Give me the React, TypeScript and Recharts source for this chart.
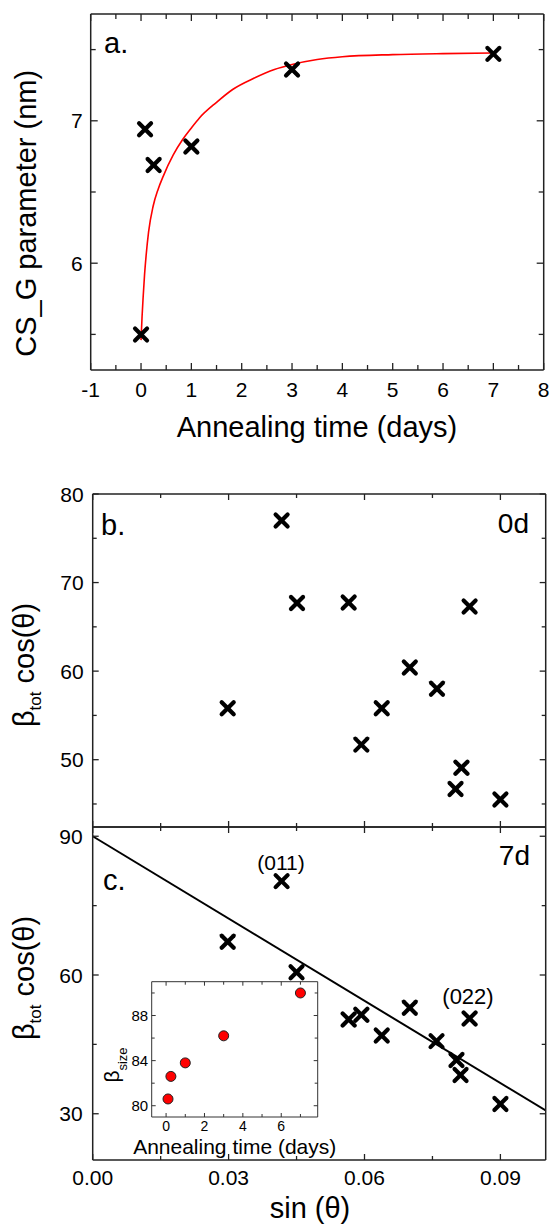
import React from 'react';
import { ComposedChart, Scatter, Line, XAxis, YAxis } from 'recharts';

const FONT = '"Liberation Sans", Arial, Helvetica, sans-serif';
const AXIS = '#222';

// ---------- Panel a ----------
const aTimes = [0, 0.08, 0.25, 1, 3, 7];
const aValues = [5.5, 6.94, 6.69, 6.82, 7.36, 7.47];
const aFitTimes = [0, 0.02, 0.04, 0.07, 0.1, 0.15, 0.24, 0.34, 0.44, 0.64, 0.83, 1, 1.16, 1.5, 1.82, 2.25, 2.65, 3, 3.5, 4, 5, 6, 7];
const aFitValues = [5.46, 5.62, 5.75, 5.92, 6.05, 6.22, 6.4, 6.52, 6.61, 6.76, 6.87, 6.95, 7.02, 7.13, 7.22, 7.3, 7.36, 7.395, 7.43, 7.45, 7.465, 7.472, 7.476];
const aXTicks = [-1, -0.5, 0, 0.5, 1, 1.5, 2, 2.5, 3, 3.5, 4, 4.5, 5, 5.5, 6, 6.5, 7, 7.5, 8];
const aXMajor = [-1, 0, 1, 2, 3, 4, 5, 6, 7, 8];
const aYTicks = [5.5, 6, 6.5, 7, 7.5];
const aYMajor = [6, 7];

// ---------- Panel b (0d) ----------
const bSin = [0.0298, 0.0417, 0.0451, 0.0565, 0.0593, 0.0638, 0.07, 0.076, 0.0832, 0.0814, 0.0801, 0.09];
const bValues = [55.8, 77.0, 67.7, 67.75, 51.7, 55.8, 60.4, 58.0, 67.3, 49.1, 46.7, 45.5];
const bYTicks = [45, 50, 55, 60, 65, 70, 75, 80];
const bYMajor = [50, 60, 70, 80];

// ---------- Panel c (7d) ----------
const cSin = [0.0298, 0.0417, 0.045, 0.0565, 0.0593, 0.0638, 0.07, 0.0759, 0.0832, 0.0803, 0.0812, 0.09];
const cValues = [67.2, 80.3, 60.6, 50.4, 51.4, 46.9, 52.9, 45.7, 50.6, 41.6, 38.4, 32.1];
const cFitSin = [0, 0.1];
const cFitValues = [90.0, 30.7];
const cYTicks = [30, 45, 60, 75, 90];
const cYMajor = [30, 60, 90];

// shared sin(theta) axis
const sinTicks = [0, 0.015, 0.03, 0.045, 0.06, 0.075, 0.09];
const sinMajor = [0, 0.03, 0.06, 0.09];

// ---------- Inset ----------
const insetTimes = [0.1, 0.25, 1, 3, 7];
const insetValues = [80.6, 82.6, 83.8, 86.2, 90.0];
const insetXTicks = [0, 1, 2, 3, 4, 5, 6, 7];
const insetXMajor = [0, 2, 4, 6];
const insetYTicks = [80, 82, 84, 86, 88, 90];
const insetYMajor = [80, 84, 88];

const zip = (xs: number[], ys: number[]) => xs.map((x, i) => ({ x, y: ys[i] }));

const isIn = (arr: number[], v: number) => arr.some((a) => Math.abs(a - v) < 1e-9);

type Side = 'bottom' | 'top' | 'left' | 'right';
interface TickCfg {
  side: Side;
  majors: number[];
  labels?: number[];
  majorLen: number;
  minorLen: number;
  fontSize?: number;
  offset?: number;
  fmt?: (v: number) => string;
  stroke?: string;
  width?: number;
}

function makeTick(cfg: TickCfg) {
  return (props: any) => {
    const { x, y, payload } = props;
    const v = payload.value as number;
    const len = isIn(cfg.majors, v) ? cfg.majorLen : cfg.minorLen;
    const stroke = cfg.stroke || AXIS;
    const sw = cfg.width || 1.3;
    let line: any = null;
    if (cfg.side === 'bottom') line = <line x1={x} y1={y} x2={x} y2={y - len} stroke={stroke} strokeWidth={sw} />;
    if (cfg.side === 'top') line = <line x1={x} y1={y} x2={x} y2={y + len} stroke={stroke} strokeWidth={sw} />;
    if (cfg.side === 'left') line = <line x1={x} y1={y} x2={x + len} y2={y} stroke={stroke} strokeWidth={sw} />;
    if (cfg.side === 'right') line = <line x1={x} y1={y} x2={x - len} y2={y} stroke={stroke} strokeWidth={sw} />;
    let label: any = null;
    if (cfg.labels && isIn(cfg.labels, v)) {
      const txt = cfg.fmt ? cfg.fmt(v) : String(v);
      if (cfg.side === 'bottom') {
        label = (
          <text x={x} y={y + (cfg.offset || 0)} textAnchor="middle" fontSize={cfg.fontSize} fontFamily={FONT} fill="#000">
            {txt}
          </text>
        );
      } else if (cfg.side === 'left') {
        label = (
          <text x={x - (cfg.offset || 0)} y={y} dy="0.36em" textAnchor="end" fontSize={cfg.fontSize} fontFamily={FONT} fill="#000">
            {txt}
          </text>
        );
      }
    }
    return (
      <g>
        {line}
        {label}
      </g>
    );
  };
}

const XMark = (props: any) => {
  const cx = props.cx ?? props.x + (props.width || 0) / 2;
  const cy = props.cy ?? props.y + (props.height || 0) / 2;
  const s = 6;
  return (
    <g>
      <line x1={cx - s} y1={cy - s} x2={cx + s} y2={cy + s} stroke="#000" strokeWidth={4.2} strokeLinecap="round" />
      <line x1={cx - s} y1={cy + s} x2={cx + s} y2={cy - s} stroke="#000" strokeWidth={4.2} strokeLinecap="round" />
    </g>
  );
};

const RedDot = (props: any) => {
  const cx = props.cx ?? props.x + (props.width || 0) / 2;
  const cy = props.cy ?? props.y + (props.height || 0) / 2;
  return <circle cx={cx} cy={cy} r={5} fill="#ff0000" stroke="#222" strokeWidth={1} />;
};

const axisLine = { stroke: AXIS, strokeWidth: 1.5 };
const thinLine = { stroke: '#333', strokeWidth: 1 };

const common = { tickSize: 0, tickMargin: 0, interval: 0 as const, allowDataOverflow: true, type: 'number' as const };

// plot box -> margins (axes occupy 1px on every side)
const box = (w: number, h: number, left: number, top: number, right: number, bottom: number) => ({
  top: top - 1,
  left: left - 1,
  right: w - right - 1,
  bottom: h - bottom - 1,
});

export default function App() {
  const aPts = zip(aTimes, aValues);
  const aFit = zip(aFitTimes, aFitValues);
  const bPts = zip(bSin, bValues);
  const cPts = zip(cSin, cValues);
  const cFit = zip(cFitSin, cFitValues);
  const insetPts = zip(insetTimes, insetValues);

  return (
    <div style={{ position: 'absolute', left: 0, top: 0, width: 550, height: 1232, background: '#fff', fontFamily: FONT }}>
      {/* Panel a */}
      <div style={{ position: 'absolute', left: 0, top: 0 }}>
        <ComposedChart width={550} height={460} margin={box(550, 460, 90.7, 14, 543.7, 370)}>
          <XAxis {...common} dataKey="x" domain={[-1, 8]} ticks={aXTicks} height={1} axisLine={axisLine}
            tick={makeTick({ side: 'bottom', majors: aXMajor, labels: aXMajor, majorLen: 7, minorLen: 5, fontSize: 21, offset: 27 })} />
          <XAxis {...common} xAxisId="t" orientation="top" dataKey="x" domain={[-1, 8]} ticks={aXTicks} height={1} axisLine={axisLine}
            tick={makeTick({ side: 'top', majors: aXMajor, majorLen: 7, minorLen: 5 })} />
          <YAxis {...common} domain={[5.25, 7.75]} ticks={aYTicks} width={1} axisLine={axisLine}
            tick={makeTick({ side: 'left', majors: aYMajor, labels: aYMajor, majorLen: 7, minorLen: 5, fontSize: 21, offset: 8 })} />
          <YAxis {...common} yAxisId="r" orientation="right" domain={[5.25, 7.75]} ticks={aYTicks} width={1} axisLine={axisLine}
            tick={makeTick({ side: 'right', majors: aYMajor, majorLen: 7, minorLen: 5 })} />
          <Line data={aFit} dataKey="y" type="monotone" stroke="#ff0000" strokeWidth={1.6} dot={false} isAnimationActive={false} />
          <Scatter data={aPts} dataKey="y" shape={XMark} isAnimationActive={false} />
        </ComposedChart>
      </div>

      {/* Panel b */}
      <div style={{ position: 'absolute', left: 0, top: 440 }}>
        <ComposedChart width={550} height={400} margin={box(550, 400, 92.7, 54, 545.7, 387)}>
          <XAxis {...common} dataKey="x" domain={[0, 0.1]} ticks={sinTicks} height={1} axisLine={axisLine}
            tick={makeTick({ side: 'bottom', majors: sinMajor, majorLen: 6, minorLen: 4 })} />
          <XAxis {...common} xAxisId="t" orientation="top" dataKey="x" domain={[0, 0.1]} ticks={sinTicks} height={1} axisLine={axisLine}
            tick={makeTick({ side: 'top', majors: sinMajor, majorLen: 6, minorLen: 4 })} />
          <YAxis {...common} domain={[42.4, 80]} ticks={bYTicks} width={1} axisLine={axisLine}
            tick={makeTick({ side: 'left', majors: bYMajor, labels: bYMajor, majorLen: 6, minorLen: 4, fontSize: 21, offset: 9 })} />
          <YAxis {...common} yAxisId="r" orientation="right" domain={[42.4, 80]} ticks={bYTicks} width={1} axisLine={axisLine}
            tick={makeTick({ side: 'right', majors: bYMajor, majorLen: 6, minorLen: 4 })} />
          <Scatter data={bPts} dataKey="y" shape={XMark} isAnimationActive={false} />
        </ComposedChart>
      </div>

      {/* Panel c */}
      <div style={{ position: 'absolute', left: 0, top: 812 }}>
        <ComposedChart width={550} height={420} margin={box(550, 420, 92.7, 15, 545.7, 348)}>
          <XAxis {...common} dataKey="x" domain={[0, 0.1]} ticks={sinTicks} height={1} axisLine={axisLine}
            tick={makeTick({ side: 'bottom', majors: sinMajor, labels: sinMajor, majorLen: 6, minorLen: 4, fontSize: 21, offset: 25, fmt: (v) => v.toFixed(2) })} />
          <XAxis {...common} xAxisId="t" orientation="top" dataKey="x" domain={[0, 0.1]} ticks={sinTicks} height={1} axisLine={axisLine}
            tick={makeTick({ side: 'top', majors: sinMajor, majorLen: 6, minorLen: 4 })} />
          <YAxis {...common} domain={[20, 92]} ticks={cYTicks} width={1} axisLine={axisLine}
            tick={makeTick({ side: 'left', majors: cYMajor, labels: cYMajor, majorLen: 6, minorLen: 4, fontSize: 21, offset: 10 })} />
          <YAxis {...common} yAxisId="r" orientation="right" domain={[20, 92]} ticks={cYTicks} width={1} axisLine={axisLine}
            tick={makeTick({ side: 'right', majors: cYMajor, majorLen: 6, minorLen: 4 })} />
          <Line data={cFit} dataKey="y" type="linear" stroke="#000" strokeWidth={2} dot={false} isAnimationActive={false} />
          <Scatter data={cPts} dataKey="y" shape={XMark} isAnimationActive={false} />
        </ComposedChart>
      </div>

      {/* Inset */}
      <div style={{ position: 'absolute', left: 100, top: 960 }}>
        <ComposedChart width={240} height={200} margin={box(240, 200, 51.7, 21.7, 217.7, 157)}>
          <XAxis {...common} dataKey="x" domain={[-0.75, 7.9]} ticks={insetXTicks} height={1} axisLine={thinLine}
            tick={makeTick({ side: 'bottom', majors: insetXMajor, labels: insetXMajor, majorLen: 4, minorLen: 3, fontSize: 14, offset: 13.5, stroke: '#333', width: 1 })} />
          <XAxis {...common} xAxisId="t" orientation="top" dataKey="x" domain={[-0.75, 7.9]} ticks={insetXTicks} height={1} axisLine={thinLine}
            tick={makeTick({ side: 'top', majors: insetXMajor, majorLen: 4, minorLen: 3, stroke: '#333', width: 1 })} />
          <YAxis {...common} domain={[79, 91]} ticks={insetYTicks} width={1} axisLine={thinLine}
            tick={makeTick({ side: 'left', majors: insetYMajor, labels: insetYMajor, majorLen: 4, minorLen: 3, fontSize: 15, offset: 3.5, stroke: '#333', width: 1 })} />
          <YAxis {...common} yAxisId="r" orientation="right" domain={[79, 91]} ticks={insetYTicks} width={1} axisLine={thinLine}
            tick={makeTick({ side: 'right', majors: insetYMajor, majorLen: 4, minorLen: 3, stroke: '#333', width: 1 })} />
          <Scatter data={insetPts} dataKey="y" shape={RedDot} isAnimationActive={false} />
        </ComposedChart>
      </div>

      {/* Titles and annotations */}
      <svg width={550} height={1232} style={{ position: 'absolute', left: 0, top: 0, pointerEvents: 'none' }} fontFamily={FONT} fill="#000">
        {/* panel a */}
        <text x={104} y={53} fontSize={29}>a.</text>
        <text transform="translate(36,213.3) rotate(-90)" textAnchor="middle" fontSize={29}>CS_G parameter (nm)</text>
        <text x={317} y={437} textAnchor="middle" fontSize={29}>Annealing time (days)</text>

        {/* panel b */}
        <text x={101} y={535} fontSize={29}>b.</text>
        <text x={529} y={533} textAnchor="end" fontSize={28}>0d</text>
        <text transform="translate(34,665) rotate(-90)" textAnchor="middle" fontSize={29}>
          <tspan>β</tspan>
          <tspan fontSize={17} dy={7}>tot</tspan>
          <tspan dy={-7}> cos(θ)</tspan>
        </text>

        {/* panel c */}
        <text x={103} y={890} fontSize={29}>c.</text>
        <text x={530} y={865} textAnchor="end" fontSize={28}>7d</text>
        <text x={281} y={870} textAnchor="middle" fontSize={21}>(011)</text>
        <text x={468} y={1003.5} textAnchor="middle" fontSize={22}>(022)</text>
        <text transform="translate(34,978) rotate(-90)" textAnchor="middle" fontSize={29}>
          <tspan>β</tspan>
          <tspan fontSize={17} dy={7}>tot</tspan>
          <tspan dy={-7}> cos(θ)</tspan>
        </text>
        <text x={310} y={1218} textAnchor="middle" fontSize={29}>sin (θ)</text>

        {/* inset */}
        <text transform="translate(119,1065) rotate(-90)" textAnchor="middle" fontSize={21}>
          <tspan>β</tspan>
          <tspan fontSize={13} dy={8}>size</tspan>
        </text>
        <text x={234.7} y={1154} textAnchor="middle" fontSize={21}>Annealing time (days)</text>
      </svg>
    </div>
  );
}
